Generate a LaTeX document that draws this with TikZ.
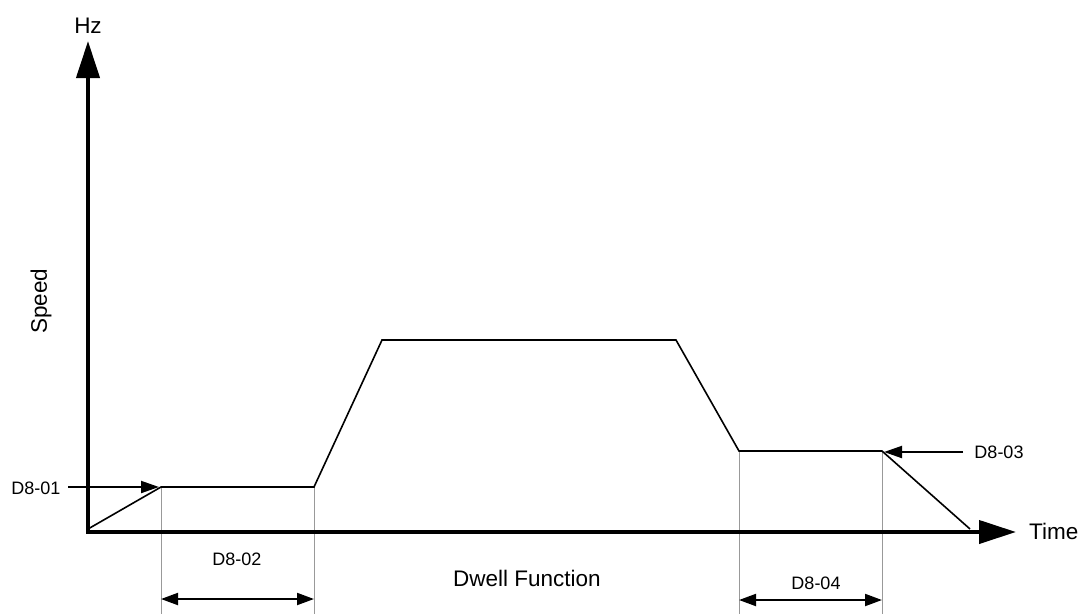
\documentclass[tikz,border=0pt]{standalone}
\usepackage{fontspec}
\setmainfont{Liberation Sans}
\usetikzlibrary{arrows.meta}
\begin{document}
\begin{tikzpicture}[x=1pt,y=-1pt,
  axis/.style={line width=4pt},
  axistip/.style={-{Triangle[length=37pt,width=23pt]}},
  profile/.style={line width=1.6pt, line join=miter},
  guide/.style={line width=1pt, draw=black!40},
  dim/.style={line width=2pt},
  dimtip/.style={{Triangle[length=17pt,width=12pt]}-{Triangle[length=17pt,width=12pt]}},
  onetip/.style={-{Triangle[length=18pt,width=12pt]}},
  small/.style={font=\fontsize{18}{18}\selectfont, inner sep=0pt},
  big/.style={font=\fontsize{22.5}{22.5}\selectfont, inner sep=0pt}]
\useasboundingbox (0,0) rectangle (1084,614);
% coordinates
\coordinate (o) at (88,532);
\coordinate (ytop) at (88,41);
\coordinate (xend) at (1016,532);
\coordinate (p0) at (88,529);
\coordinate (p1) at (161,487);
\coordinate (p2) at (314,487);
\coordinate (p3) at (382,340);
\coordinate (p4) at (676,340);
\coordinate (p5) at (739,451);
\coordinate (p6) at (882,451);
\coordinate (p7) at (970,529);
\coordinate (b1) at (161,614);
\coordinate (b2) at (314,614);
\coordinate (b5) at (739,614);
\coordinate (b6) at (882,614);
\coordinate (d2l) at (161,599);
\coordinate (d2r) at (314,599);
\coordinate (d4l) at (739,600);
\coordinate (d4r) at (882,600);
\coordinate (a1s) at (68,487);
\coordinate (a1e) at (159,487);
\coordinate (a3s) at (963,452);
\coordinate (a3e) at (884,452);
% guides
\draw[guide] (p1) -- (b1);
\draw[guide] (p2) -- (b2);
\draw[guide] (p5) -- (b5);
\draw[guide] (p6) -- (b6);
% axes
\draw[axis, axistip] ([yshift=2pt]o) -- (ytop);
\draw[axis, axistip] ([xshift=-2pt]o) -- (xend);
% profile
\draw[profile] (p0) -- (p1) -- (p2) -- (p3) -- (p4) -- (p5) -- (p6) -- (p7);
% labels
\node[big] (hz) at (88,26) {Hz};
\node[big, rotate=90] (speed) at (41,301) {Speed};
\node[big, anchor=west] (time) at (1029,531) {Time};
\node[big] (dwell) at (527,578) {Dwell Function};
\node[small] (d801) at (36,488) {D8-01};
\node[small] (d803) at (999,452) {D8-03};
\node[small] (d802) at (237,559) {D8-02};
\node[small] (d804) at (816,583) {D8-04};
% pointer arrows
\draw[dim, onetip] (a1s) -- (a1e);
\draw[dim, onetip] (a3s) -- (a3e);
\draw[dim, dimtip] (d2l) -- (d2r);
\draw[dim, dimtip] (d4l) -- (d4r);
\end{tikzpicture}
\end{document}
